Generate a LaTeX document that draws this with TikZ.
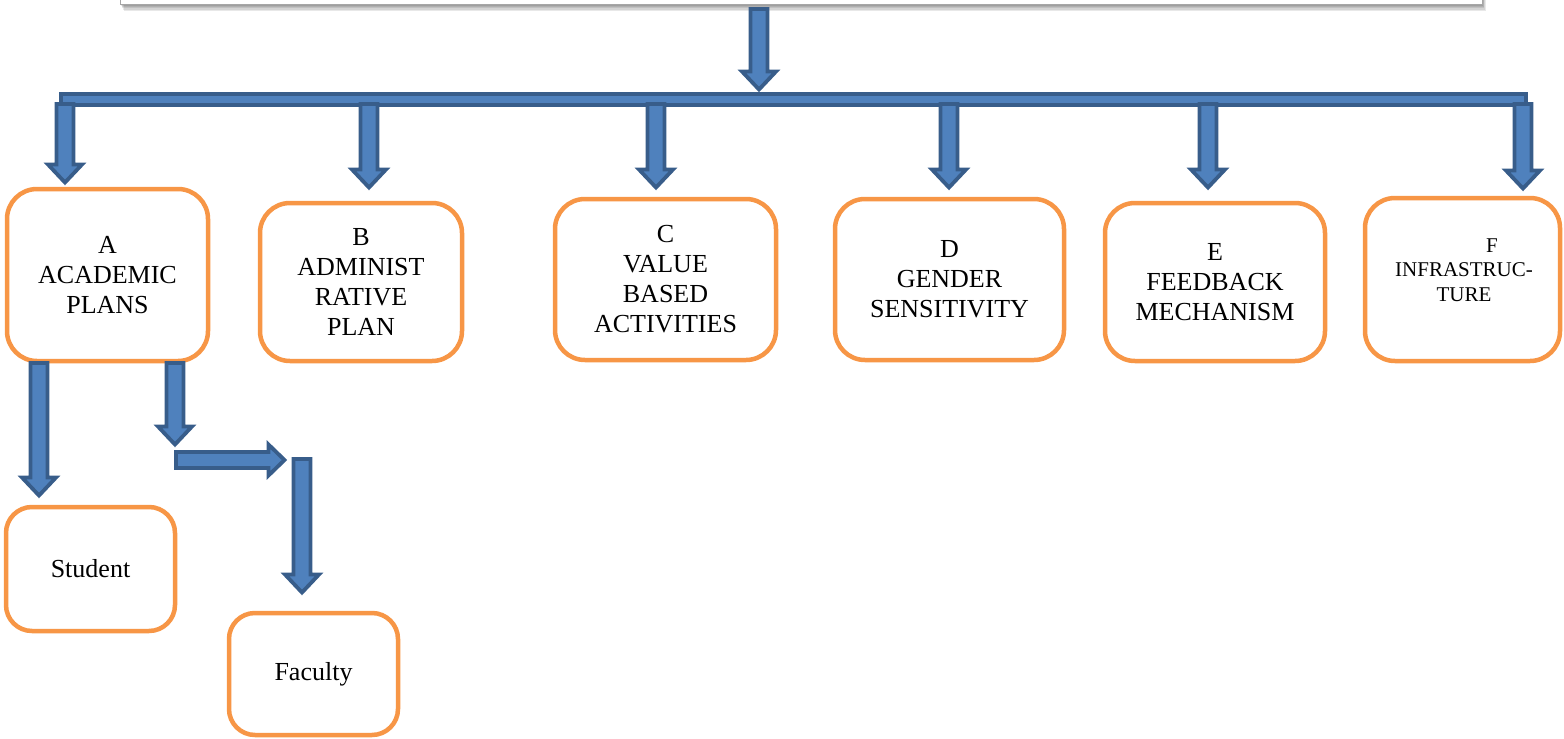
\documentclass[tikz,border=0pt]{standalone}
\usepackage{fontspec}
\setmainfont{Liberation Serif}
\definecolor{boxor}{HTML}{F79646}
\definecolor{arrfill}{HTML}{4F81BD}
\definecolor{arrline}{HTML}{385D8A}
\tikzset{
  box/.style={draw=boxor, line width=4.5pt, rounded corners=30pt, fill=white,
    align=center, font=\fontsize{26}{30}\selectfont, inner sep=0pt},
  smallbox/.style={box, rounded corners=26pt},
  lbl/.style={align=center, inner sep=0pt},
  blk/.style={fill=arrfill, draw=arrline, line width=3.8pt, line join=miter},
}
\newcommand\blkdown[3]{\draw[blk] (#1-8.5,#2) -- (#1+8.5,#2) -- (#1+8.5,#3-18) -- (#1+17,#3-18) -- (#1,#3) -- (#1-17,#3-18) -- (#1-8.5,#3-18) -- cycle;}
\newcommand\blkright[3]{\draw[blk] (#2,#1-8) -- (#2,#1+8) -- (#3-16,#1+8) -- (#3-16,#1+15.5) -- (#3,#1) -- (#3-16,#1-15.5) -- (#3-16,#1-8) -- cycle;}
\begin{document}
\begin{tikzpicture}[x=1pt,y=-1pt]
\useasboundingbox (0,0) rectangle (1564,739);
% top box (cut off) with soft shadow
\foreach \i in {1,...,6}{
  \fill[black, opacity=0.09] (120+\i*0.6,-40) rectangle (1482+\i*0.6,4+\i*1.1);
}
\draw[fill=white, draw=gray!70, line width=0.8pt] (120,-40) rectangle (1482,4);
% boxes
\node[box, minimum width=201pt, minimum height=172pt] (a) at (107.5,275) {A\\ACADEMIC\\PLANS};
\node[box, minimum width=202pt, minimum height=158pt] (b) at (361,282) {B\\ADMINIST\\RATIVE\\PLAN};
\node[box, minimum width=221pt, minimum height=161pt] (c) at (665.5,279.5) {C\\VALUE\\BASED\\ACTIVITIES};
\node[box, minimum width=229pt, minimum height=161pt] (d) at (949.5,279.5) {D\\GENDER\\SENSITIVITY};
\node[box, minimum width=220pt, minimum height=158pt] (e) at (1215,282) {E\\FEEDBACK\\MECHANISM};
\node[box, minimum width=195pt, minimum height=163pt] (f) at (1462.5,279.5) {};
\node[lbl, font=\fontsize{21}{24.5}\selectfont] (ftext) at (1464,270) {\hspace*{56pt}F\\INFRASTRUC-\\TURE};
\node[smallbox, minimum width=169pt, minimum height=124pt] (student) at (90.5,569) {Student};
\node[smallbox, minimum width=169pt, minimum height=122pt] (faculty) at (313.5,674) {Faculty};
% main arrow and bar
\blkdown{759}{9}{89.5}
\draw[blk] (61,94) rectangle (1526,105);
% arrows to boxes
\blkdown{65}{104}{182.5}
\blkdown{369}{104}{187.5}
\blkdown{656}{104}{187.5}
\blkdown{949}{104}{187.5}
\blkdown{1208}{104}{187.5}
\blkdown{1523}{104}{188.5}
% arrows below A
\blkdown{39}{363}{495.5}
\blkdown{175}{363}{444.5}
\blkright{460}{176}{284.5}
\blkdown{302}{459}{592.5}
\end{tikzpicture}
\end{document}
